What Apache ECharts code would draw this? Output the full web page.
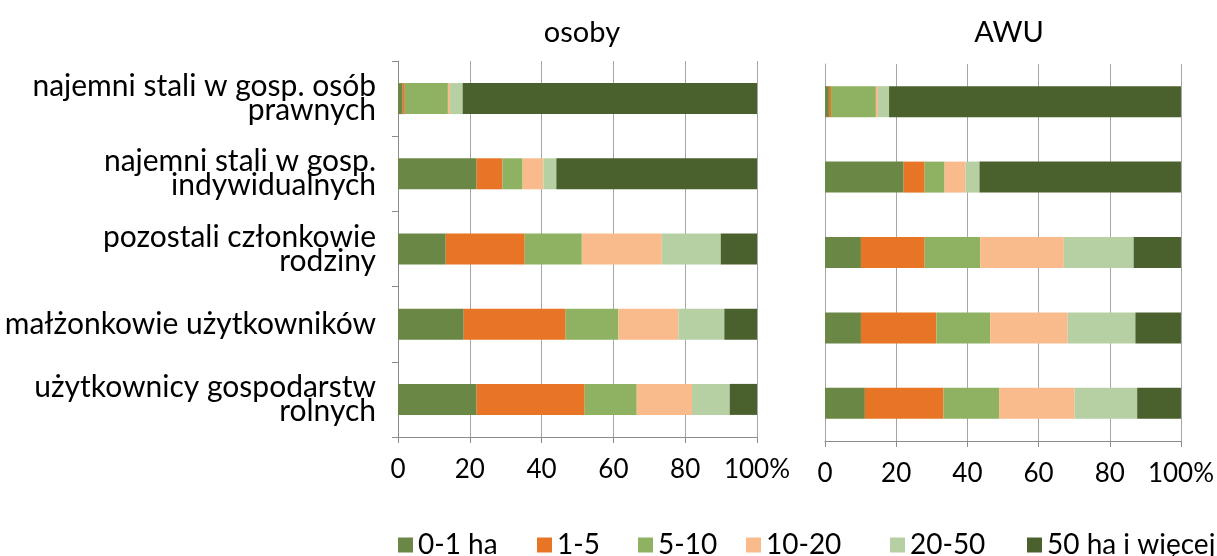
<!DOCTYPE html>
<html>
<head>
<meta charset="utf-8">
<script src="https://cdn.jsdelivr.net/npm/echarts@6/dist/echarts.min.js"></script>
<style>
  html, body { margin: 0; padding: 0; background: #fff; }
  #main { width: 1217px; height: 556px; }
</style>
</head>
<body>
<div id="main"></div>
<script>
// kategorie (od góry do dołu)
const categories = [
  'najemni stali w gosp. osób\nprawnych',
  'najemni stali w gosp.\nindywidualnych',
  'pozostali członkowie\nrodziny',
  'małżonkowie użytkowników',
  'użytkownicy gospodarstw\nrolnych'
];
const sizeClasses = ['0-1 ha', '1-5', '5-10', '10-20', '20-50', '50 ha i więcej'];
const xTicks = [0, 20, 40, 60, 80, 100];

// osoby, % wg grup obszarowych
const osoby_0_1 = [1.3, 21.9, 13.3, 18.3, 21.9];
const osoby_1_5 = [0.6, 7.2, 22.0, 28.4, 30.1];
const osoby_5_10 = [12.0, 5.6, 15.9, 14.7, 14.5];
const osoby_10_20 = [0.6, 5.8, 22.3, 16.7, 15.4];
const osoby_20_50 = [3.5, 3.6, 16.4, 12.8, 10.5];
const osoby_50 = [82.0, 55.9, 10.1, 9.1, 7.6];

// AWU, %
const awu_0_1 = [1.1, 22.1, 10.1, 10.1, 11.2];
const awu_1_5 = [0.6, 5.9, 17.9, 21.2, 22.1];
const awu_5_10 = [12.6, 5.6, 15.6, 15.1, 15.6];
const awu_10_20 = [0.6, 5.9, 23.5, 21.8, 21.2];
const awu_20_50 = [3.1, 3.9, 19.6, 19.0, 17.6];
const awu_50 = [82.0, 56.6, 13.3, 12.8, 12.3];

const colors = ['#6b8745', '#e87425', '#8eb262', '#f9bb8c', '#b6cfa3', '#4a612d'];
const legendLeft = [398, 537, 638, 746, 890, 1027];

const osobyData = [osoby_0_1, osoby_1_5, osoby_5_10, osoby_10_20, osoby_20_50, osoby_50];
const awuData = [awu_0_1, awu_1_5, awu_5_10, awu_10_20, awu_20_50, awu_50];

const FONT = 'Lato, "Open Sans", sans-serif';

function xAxisFor(gridIndex) {
  return {
    type: 'value',
    gridIndex: gridIndex,
    min: xTicks[0],
    max: xTicks[xTicks.length - 1],
    interval: xTicks[1] - xTicks[0],
    axisLine: { show: true, lineStyle: { color: '#8c8c8c', width: 1 } },
    axisTick: { show: true, length: 6, lineStyle: { color: '#8c8c8c' } },
    splitLine: { show: true, lineStyle: { color: '#a6a6a6', width: 1 } },
    axisLabel: {
      fontSize: 26, color: '#000', fontFamily: FONT, margin: 20,
      formatter: v => (v === 100 ? '100%' : String(v))
    }
  };
}

let chart = echarts.init(document.getElementById('main'));

const series = [];
sizeClasses.forEach((name, i) => {
  series.push({
    name: name, type: 'bar', stack: 'osoby', barWidth: 31,
    xAxisIndex: 0, yAxisIndex: 0,
    itemStyle: { color: colors[i] },
    data: osobyData[i]
  });
});
sizeClasses.forEach((name, i) => {
  series.push({
    name: name, type: 'bar', stack: 'awu', barWidth: 31,
    xAxisIndex: 1, yAxisIndex: 1,
    itemStyle: { color: colors[i] },
    data: awuData[i]
  });
});

const option = {
  animation: false,
  textStyle: { fontFamily: FONT },
  title: [
    { text: 'osoby', left: 577, top: 13, textAlign: 'center',
      textStyle: { fontSize: 29, fontWeight: 'normal', color: '#000', fontFamily: FONT } },
    { text: 'AWU', left: 1004, top: 13, textAlign: 'center',
      textStyle: { fontSize: 29, fontWeight: 'normal', color: '#000', fontFamily: FONT } }
  ],
  legend: sizeClasses.map((name, i) => ({
    data: [name],
    left: legendLeft[i],
    top: 531,
    padding: 0,
    icon: 'rect',
    itemWidth: 15,
    itemHeight: 15,
    selectedMode: false,
    textStyle: { fontSize: 28, color: '#000', fontFamily: FONT }
  })),
  grid: [
    { left: 398, right: 460, top: 61, bottom: 119 },
    { left: 825, right: 34, top: 64, bottom: 115 }
  ],
  xAxis: [xAxisFor(0), xAxisFor(1)],
  yAxis: [
    {
      type: 'category', gridIndex: 0, inverse: true, data: categories,
      axisLine: { show: true, lineStyle: { color: '#8c8c8c' } },
      axisTick: { show: true, length: 6, lineStyle: { color: '#8c8c8c' } },
      axisLabel: { fontSize: 30, lineHeight: 24, color: '#000', fontFamily: FONT, margin: 22 }
    },
    {
      type: 'category', gridIndex: 1, inverse: true, data: categories,
      axisLine: { show: true, lineStyle: { color: '#a6a6a6' } },
      axisTick: { show: false },
      axisLabel: { show: false }
    }
  ],
  series: series
};

chart.setOption(option);
window.addEventListener('resize', function () {
  chart.resize();
});
</script>
</body>
</html>
